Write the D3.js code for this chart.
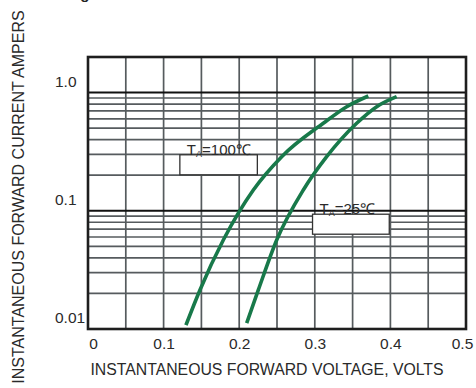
<!DOCTYPE html>
<html>
<head>
<meta charset="utf-8">
<script src="https://cdn.jsdelivr.net/npm/d3@7"></script>
<style>
  body { margin: 0; background: #fff; }
  svg { display: block; font-family: "Liberation Sans", Arial, sans-serif; }
</style>
</head>
<body>
<svg id="chart" width="476" height="388"></svg>
<script>
// forward characteristics (volts, amperes)
const voltage100 = [0.1296, 0.1481, 0.179, 0.2187, 0.2562, 0.3112, 0.3422, 0.3708];
const current100 = [0.0108, 0.0214, 0.0566, 0.150, 0.287, 0.550, 0.760, 0.936];
const voltage25 = [0.2099, 0.2253, 0.2496, 0.2848, 0.3157, 0.3554, 0.3819, 0.4083];
const current25 = [0.0112, 0.0214, 0.0566, 0.150, 0.287, 0.550, 0.760, 0.923];

const xTicks = [0, 0.1, 0.2, 0.3, 0.4, 0.5];
const xTickLabels = ["0", "0.1", "0.2", "0.3", "0.4", "0.5"];
const yTicks = [0.01, 0.1, 1];
const yTickLabels = ["0.01", "0.1", "1.0"];
const xGrid = [0.05, 0.1, 0.15, 0.2, 0.25, 0.3, 0.35, 0.4, 0.45];
const yGrid = [0.02, 0.03, 0.04, 0.05, 0.06, 0.07, 0.08, 0.09,
               0.2, 0.3, 0.4, 0.5, 0.6, 0.7, 0.8, 0.9];
const labels = [
  { sub: "A", temp: "100℃", v: 0.1215, i: 0.245, w: 0.1025 },
  { sub: "A", temp: "25℃", v: 0.297, i: 0.077, w: 0.1015 }
];

const margin = { top: 57, right: 10, bottom: 59, left: 88 };
const width = 476 - margin.left - margin.right;
const height = 388 - margin.top - margin.bottom;

const svg = d3.select("#chart");
const g = svg.append("g").attr("transform", "translate(" + margin.left + "," + margin.top + ")");

const x = d3.scaleLinear().domain([0, 0.5]).range([0, width]);
const y = d3.scaleLog().domain([0.01, 2]).range([height, 0]);

// grid
g.selectAll(".vgrid").data(xGrid).enter().append("line")
  .attr("x1", d => x(d)).attr("x2", d => x(d))
  .attr("y1", 0).attr("y2", height)
  .attr("stroke", "#565b5e").attr("stroke-width", 1.7);

g.selectAll(".hgrid").data(yGrid).enter().append("line")
  .attr("x1", 0).attr("x2", width)
  .attr("y1", d => y(d)).attr("y2", d => y(d))
  .attr("stroke", "#565b5e").attr("stroke-width", 1.7);

g.selectAll(".decade").data([0.1, 1]).enter().append("line")
  .attr("x1", 0).attr("x2", width)
  .attr("y1", d => y(d)).attr("y2", d => y(d))
  .attr("stroke", "#111").attr("stroke-width", 2);

g.append("rect")
  .attr("x", 0).attr("y", 0).attr("width", width).attr("height", height)
  .attr("fill", "none").attr("stroke", "#1e1e1e").attr("stroke-width", 2.6);

// curves
const line = d3.line()
  .x(d => x(d[0]))
  .y(d => y(d[1]))
  .curve(d3.curveMonotoneX);

const series = [
  d3.zip(voltage100, current100),
  d3.zip(voltage25, current25)
];
g.selectAll(".curve").data(series).enter().append("path")
  .attr("d", line)
  .attr("fill", "none")
  .attr("stroke", "#18794a")
  .attr("stroke-width", 3.6);

// annotation boxes
labels.forEach(function(l) {
  g.append("rect")
    .attr("x", x(l.v)).attr("y", y(l.i) - 10)
    .attr("width", x(l.w)).attr("height", 20)
    .attr("fill", "#fff").attr("stroke", "#333").attr("stroke-width", 1.3);
  const t = g.append("text")
    .attr("x", x(l.v) + 7).attr("y", y(l.i) - 10)
    .attr("font-size", "15px").attr("fill", "#2a2a2a");
  t.append("tspan").text("T");
  t.append("tspan").attr("font-size", "9px").attr("dy", 2).text(l.sub);
  t.append("tspan").attr("dy", -2).text("=" + l.temp);
});

// axes
const xAxis = d3.axisBottom(x)
  .tickValues(xTicks)
  .tickFormat((d, i) => xTickLabels[i])
  .tickSize(0).tickPadding(9);
const gx = g.append("g").attr("transform", "translate(0," + height + ")").call(xAxis);
gx.select(".domain").remove();
gx.selectAll("text")
  .attr("font-size", "15.5px").attr("fill", "#2a2a2a").attr("font-family", null)
  .attr("dx", (d, i) => i === 0 ? 5 : (i === xTicks.length - 1 ? -4 : 0));

const yAxis = d3.axisLeft(y)
  .tickValues(yTicks)
  .tickFormat((d, i) => yTickLabels[i])
  .tickSize(0).tickPadding(0);
const gy = g.append("g").call(yAxis);
gy.select(".domain").remove();
gy.selectAll("text")
  .attr("text-anchor", "start").attr("x", -33).attr("dy", "-0.4em")
  .attr("font-size", "15.5px").attr("fill", "#2a2a2a").attr("font-family", null);

// titles
svg.append("text")
  .attr("x", margin.left + width / 2 - 10).attr("y", 375)
  .attr("text-anchor", "middle").attr("font-size", "15.8px").attr("fill", "#2a2a2a")
  .text("INSTANTANEOUS FORWARD VOLTAGE, VOLTS");

svg.append("text")
  .attr("transform", "translate(24,197) rotate(-90)")
  .attr("text-anchor", "middle").attr("font-size", "16px").attr("fill", "#2a2a2a")
  .text("INSTANTANEOUS FORWARD CURRENT AMPERS");

svg.append("text")
  .attr("x", 67).attr("y", -1)
  .attr("font-size", "15px").attr("font-weight", "bold").attr("fill", "#222")
  .text("Fig.2 TYPICAL FORWARD CHARACTERISTICS");
</script>
</body>
</html>
